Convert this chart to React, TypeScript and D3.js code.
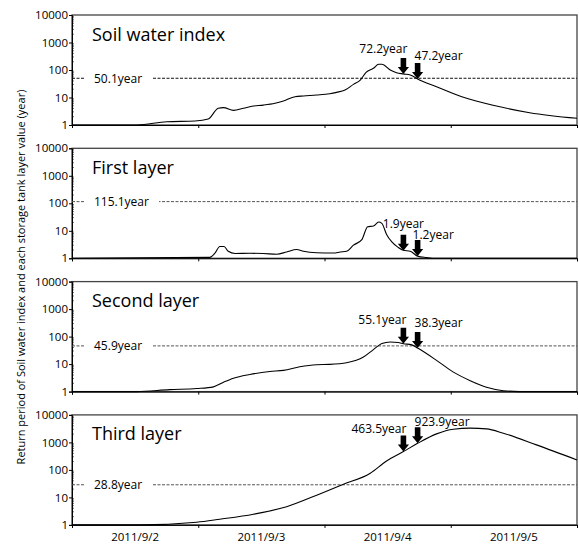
import React, { useEffect, useRef } from "react";
import * as d3 from "d3";

// hours counted from 2011/9/2 00:00
const dayLabels = ["2011/9/2", "2011/9/3", "2011/9/4", "2011/9/5"];
const yTickValues = [1, 10, 100, 1000, 10000];

const panelTitles = ["Soil water index", "First layer", "Second layer", "Third layer"];
const thresholds = [50.1, 115.1, 45.9, 28.8];

const swiTime = [0, 12.4, 18, 23.4, 25.9, 27.8, 28.8, 30.7, 32.6, 34.2, 36.4, 38.6, 40.2, 42.4, 44, 46.5, 49, 50.3, 51.9, 53.5, 54.8, 55.9, 57.3, 58.3, 58.9, 60.5, 61.7, 63, 64.3, 65.7, 69.3, 74.4, 80.7, 87, 96];
const swiValue = [1, 1, 1.32, 1.4, 1.65, 4.05, 4.3, 3.4, 4.05, 4.8, 5.3, 6.2, 7.5, 10.7, 11.4, 12.3, 13.7, 15.4, 18.7, 30, 43, 82, 115, 161, 161, 100, 80, 72.2, 66, 47.2, 24.7, 10.2, 4.9, 2.8, 1.75];

const firstTime = [0, 26.2, 27.2, 28.1, 28.9, 29.7, 31, 33.8, 36.4, 38.9, 40.8, 42.7, 44, 46.5, 49.7, 51, 52.2, 53.5, 55.1, 56.2, 57.3, 58.3, 58.9, 59.8, 60.8, 62, 63, 64.3, 65.7, 67.4, 68.5, 96];
const firstValue = [1, 1.08, 1.56, 2.7, 2.7, 1.8, 1.49, 1.52, 1.49, 1.4, 1.7, 2.08, 1.8, 1.6, 1.56, 1.7, 1.8, 3.0, 4.8, 14, 14.9, 20.8, 18.7, 7.4, 3.95, 2.5, 1.95, 1.8, 1.2, 1.06, 1, 1];

const secondTime = [0, 12.3, 18.6, 23.7, 26.9, 28.8, 30.7, 33.8, 37.6, 40.2, 43.3, 46.5, 49, 52.2, 55.4, 57.3, 58.9, 60.5, 62, 63, 64.6, 65.7, 69.3, 72.5, 75.7, 78.8, 82, 85, 96];
const secondValue = [1, 1, 1.18, 1.29, 1.49, 2.19, 3.07, 4.2, 5.4, 5.9, 8.0, 9.5, 9.75, 11.2, 18, 33.7, 56, 64, 61, 55.1, 50, 38.3, 13.7, 5.1, 2.5, 1.44, 1.08, 1, 1];

const thirdTime = [0, 12.9, 23.7, 28.1, 34.5, 40.8, 47.1, 51.6, 56.7, 59.8, 63, 65.7, 69.3, 72.5, 75.7, 78.8, 82, 88.3, 96];
const thirdValue = [1, 1, 1.25, 1.61, 2.45, 4.6, 13.4, 30, 76, 212, 463.5, 923.9, 2040, 3020, 3300, 3100, 2160, 813, 231];

const arrowTimes = [63, 65.7];
const arrowValues = [
  [72.2, 47.2],
  [1.9, 1.2],
  [55.1, 38.3],
  [463.5, 923.9],
];

// label placement next to each arrow (anchor, dx, dy from arrow top)
const arrowLabelPos = [
  [["end", 4, -5], ["start", -3, -3]],
  [["middle", 0, -7], ["start", -5, -1]],
  [["end", 3, -4], ["start", -3, -5]],
  [["end", 3, -3], ["start", -3, -1]],
];

const series = [
  { t: swiTime, v: swiValue },
  { t: firstTime, v: firstValue },
  { t: secondTime, v: secondValue },
  { t: thirdTime, v: thirdValue },
];

const FONT = "'Open Sans', 'Noto Sans', sans-serif";

export default function App() {
  const ref = useRef<SVGSVGElement>(null);

  useEffect(() => {
    document.body.style.margin = "0";
    const svg = d3.select(ref.current);
    svg.selectAll("*").remove();

    const left = 72;
    const right = 577;
    const panelTop = 15;
    const panelStep = 133.3;
    const panelH = 110;

    const x = d3.scaleLinear().domain([0, 96]).range([left, right]);

    panelTitles.forEach((title, i) => {
      const top = panelTop + i * panelStep;
      const bottom = top + panelH;
      const y = d3.scaleLog().domain([1, 10000]).range([bottom, top]).clamp(true);
      const g = svg.append("g");

      // frame
      g.append("rect")
        .attr("x", left)
        .attr("y", top)
        .attr("width", right - left)
        .attr("height", panelH)
        .attr("fill", "none")
        .attr("stroke", "#444")
        .attr("stroke-width", 1.3);

      // minor y ticks
      const minors: number[] = [];
      for (let d = 1; d < 10000; d *= 10) {
        for (let k = 2; k <= 9; k++) minors.push(d * k);
      }
      g.selectAll(".minor")
        .data(minors)
        .enter()
        .append("line")
        .attr("x1", left)
        .attr("x2", left + 2)
        .attr("y1", (d) => y(d))
        .attr("y2", (d) => y(d))
        .attr("stroke", "#555")
        .attr("stroke-width", 0.8);

      // y axis
      const yAxis = d3
        .axisLeft(y)
        .tickValues(yTickValues)
        .tickFormat((d) => String(d))
        .tickSize(3)
        .tickPadding(1);
      const ya = g.append("g").attr("transform", `translate(${left},0)`).call(yAxis);
      ya.select(".domain").attr("stroke", "#000");
      ya.selectAll("text").attr("font-family", FONT).attr("font-size", 11.5).attr("fill", "#000");

      // x axis ticks
      const xAxis = d3
        .axisBottom(x)
        .tickValues([0, 24, 48, 72, 96])
        .tickFormat(() => "")
        .tickSize(3);
      const xa = g.append("g").attr("transform", `translate(0,${bottom})`).call(xAxis);
      xa.select(".domain").attr("stroke", "#000");

      if (i === panelTitles.length - 1) {
        g.selectAll(".daylabel")
          .data(dayLabels)
          .enter()
          .append("text")
          .attr("x", (d, k) => x(k * 24 + 12))
          .attr("y", bottom + 16.5)
          .attr("text-anchor", "middle")
          .attr("font-family", FONT)
          .attr("font-size", 11.5)
          .text((d) => d);
      }

      // threshold line
      const ty = y(thresholds[i]);
      g.append("line")
        .attr("x1", left)
        .attr("x2", right)
        .attr("y1", ty)
        .attr("y2", ty)
        .attr("stroke", i === 0 ? "#111" : "#555")
        .attr("stroke-width", 1)
        .attr("stroke-dasharray", "3,1.5");
      const label = `${thresholds[i]}year`;
      const lbl = g
        .append("text")
        .attr("x", 94)
        .attr("y", ty + 4.5)
        .attr("font-family", FONT)
        .attr("font-size", 12)
        .text(label);
      const bb = (lbl.node() as SVGTextElement).getBBox();
      g.append("rect")
        .attr("x", bb.x - 10)
        .attr("y", ty - 3)
        .attr("width", bb.width + 20)
        .attr("height", 6)
        .attr("fill", "#fff");
      lbl.raise();

      // title
      g.append("text")
        .attr("x", 92)
        .attr("y", top + 25.5)
        .attr("font-family", FONT)
        .attr("font-size", 18)
        .text(title);

      // series line
      const s = series[i];
      const pts = s.t.map((t, k) => [t, s.v[k]] as [number, number]);
      const line = d3
        .line<[number, number]>()
        .x((d) => x(d[0]))
        .y((d) => y(d[1]))
        .curve(d3.curveMonotoneX);
      g.append("path")
        .attr("d", line(pts))
        .attr("fill", "none")
        .attr("stroke", "#000")
        .attr("stroke-width", 1.1);

      // arrows
      arrowTimes.forEach((t, k) => {
        const val = arrowValues[i][k];
        const ax = x(t);
        const tip = y(val);
        const topY = tip - 16;
        const path = d3.path();
        path.moveTo(ax - 2.8, topY);
        path.lineTo(ax + 2.8, topY);
        path.lineTo(ax + 2.8, tip - 7);
        path.lineTo(ax + 5.6, tip - 7);
        path.lineTo(ax, tip);
        path.lineTo(ax - 5.6, tip - 7);
        path.lineTo(ax - 2.8, tip - 7);
        path.closePath();
        g.append("path").attr("d", path.toString()).attr("fill", "#000");
        const [anchor, dx, dy] = arrowLabelPos[i][k] as [string, number, number];
        g.append("text")
          .attr("x", ax + dx)
          .attr("y", topY + dy)
          .attr("text-anchor", anchor)
          .attr("font-family", FONT)
          .attr("font-size", 12)
          .text(`${val}year`);
      });
    });

    // y axis title
    svg
      .append("text")
      .attr("transform", `translate(25,277) rotate(-90)`)
      .attr("text-anchor", "middle")
      .attr("font-family", FONT)
      .attr("font-size", 11)
      .text("Return period of Soil water index and each storage tank layer value (year)");
  }, []);

  return <svg ref={ref} width={579} height={544} style={{ display: "block", background: "#fff" }} />;
}
